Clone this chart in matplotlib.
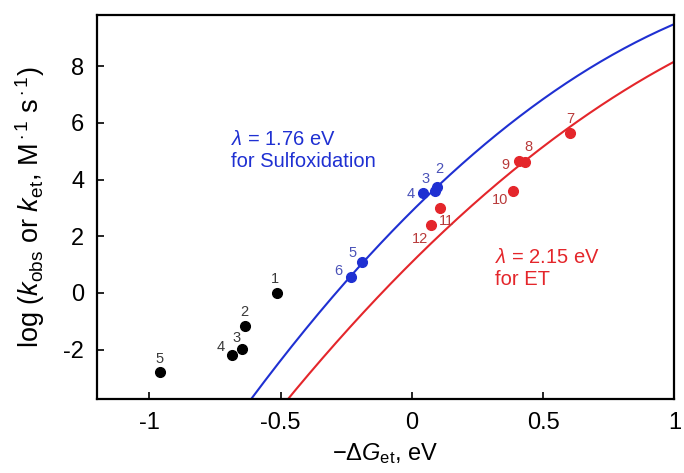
import matplotlib
matplotlib.use("Agg")
import matplotlib.pyplot as plt
import numpy as np

plt.rcParams["font.family"] = ["Liberation Sans", "DejaVu Sans"]
plt.rcParams["mathtext.fontset"] = "custom"
plt.rcParams["mathtext.rm"] = "Liberation Sans"
plt.rcParams["mathtext.it"] = "Liberation Sans:italic"
plt.rcParams["mathtext.sf"] = "Liberation Sans"
plt.rcParams["axes.unicode_minus"] = False

# sulfoxidation points (black, off-curve)
black_x = [-0.513, -0.637, -0.645, -0.685, -0.960]
black_y = [0.00, -1.15, -1.98, -2.20, -2.78]
black_lbl = ["1", "2", "3", "4", "5"]

# sulfoxidation points on the blue curve
blue_x = [0.094, 0.088, 0.044, -0.189, -0.230]
blue_y = [3.75, 3.58, 3.52, 1.08, 0.55]
blue_lbl = ["2", "3", "4", "5", "6"]

# electron transfer points (red)
red_x = [0.603, 0.430, 0.407, 0.387, 0.107, 0.072]
red_y = [5.63, 4.62, 4.67, 3.60, 2.98, 2.40]
red_lbl = ["7", "8", "9", "10", "11", "12"]

# Marcus fit parameters
lam_sulf = 1.76
lam_et = 2.15
log_Z = 11.0
kT_ln10 = 0.0542  # 2.303 kT, eV

x_ticks = [-1, -0.5, 0, 0.5, 1]
x_tick_lbl = ["-1", "-0.5", "0", "0.5", "1"]
y_ticks = [-2, 0, 2, 4, 6, 8]


def marcus(x, lam):
    return log_Z - (lam - x) ** 2 / (4 * lam * kT_ln10)


fig = plt.figure(figsize=(6.84, 4.73), dpi=100)
ax = fig.add_axes([0.1414, 0.156, 0.8446, 0.812])

xx = np.linspace(-1.2, 1.0, 300)
ax.plot(xx, marcus(xx, lam_sulf), color="#1f30d2", lw=1.5, zorder=2)
ax.plot(xx, marcus(xx, lam_et), color="#e4262b", lw=1.5, zorder=2)

ax.plot(black_x, black_y, "o", color="black", ms=7, zorder=3)
ax.plot(blue_x, blue_y, "o", color="#1f30d2", ms=7, zorder=3)
ax.plot(red_x, red_y, "o", color="#e4262b", ms=7, zorder=3)

# label offsets in points
black_off = [(-1.5, 10), (-0.5, 10), (-4.5, 8), (-8, 6), (-0.5, 9.5)]
blue_off = [(2, 12.5), (-7, 9), (-9.5, -0.5), (-7, 6.5), (-9.5, 4.5)]
red_off = [(0, 10), (3, 10.5), (-9.5, -3), (-9.5, -6.5), (5, -9), (-8, -10)]

for xs, ys, lbls, offs, c in [
    (black_x, black_y, black_lbl, black_off, "#3a3a3a"),
    (blue_x, blue_y, blue_lbl, blue_off, "#4a52b8"),
    (red_x, red_y, red_lbl, red_off, "#b83a3a"),
]:
    for x, y, t, o in zip(xs, ys, lbls, offs):
        ax.annotate(t, (x, y), xytext=o, textcoords="offset points",
                    ha="center", va="center", fontsize=10.5, color=c)

ax.text(-0.69, 5.75, "$\\lambda$ = 1.76 eV\nfor Sulfoxidation",
        color="#1f30d2", fontsize=14.5, ha="left", va="top", linespacing=1.2)
ax.text(0.318, 1.6, "$\\lambda$ = 2.15 eV\nfor ET",
        color="#e4262b", fontsize=14.5, ha="left", va="top", linespacing=1.2)

ax.set_xlim(-1.2, 1.0)
ax.set_ylim(-3.75, 9.8)
ax.set_xticks(x_ticks)
ax.set_xticklabels(x_tick_lbl)
ax.set_yticks(y_ticks)
ax.tick_params(direction="in", length=5, width=1.2, labelsize=17, pad=9,
               top=False, right=False)
for s in ax.spines.values():
    s.set_linewidth(1.6)

ax.set_xlabel("$-\\Delta G_{\\rm et}$, eV", fontsize=17, labelpad=5)
ax.set_ylabel("log ($k_{\\rm obs}$ or $k_{\\rm et}$, M$^{\\rm \\cdot 1}$ s$^{\\rm \\cdot 1}$)",
              fontsize=19.5, labelpad=12)

fig.savefig("out.png", dpi=100)
